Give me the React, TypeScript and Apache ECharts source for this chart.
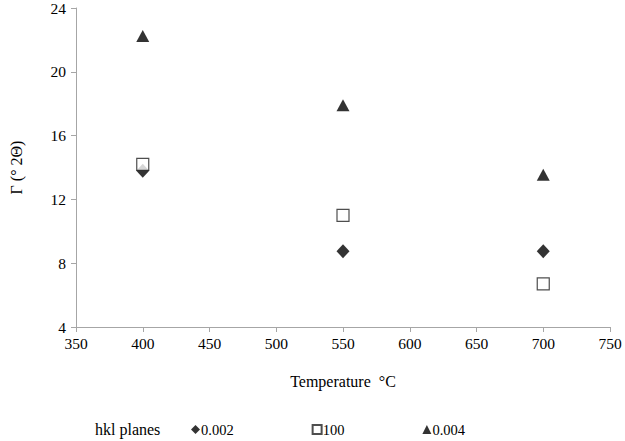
import React, { useEffect, useRef } from "react";
import * as echarts from "echarts";

const temperatures = [400, 550, 700];
const plane002 = [13.8, 8.75, 8.75];
const plane100 = [14.2, 11.0, 6.7];
const plane004 = [22.25, 17.9, 13.55];
const seriesNames = ["0.002", "100", "0.004"];

const FONT = "'Liberation Serif', serif";

export default function App() {
  const ref = useRef<HTMLDivElement>(null);
  useEffect(() => {
    if (!ref.current) return;
    const chart = echarts.init(ref.current, null, { renderer: "svg" });
    const mk = (vals: number[]) => temperatures.map((t, i) => [t, vals[i]]);
    chart.setOption({
      animation: false,
      backgroundColor: "#ffffff",
      textStyle: { fontFamily: FONT },
      grid: { left: 74, right: 15, top: 8, bottom: 114, containLabel: false },
      xAxis: {
        type: "value",
        min: 350,
        max: 750,
        interval: 50,
        name: "Temperature\u00a0 °C",
        nameLocation: "middle",
        nameGap: 46,
        nameTextStyle: { color: "#000", fontSize: 16, fontFamily: FONT },
        axisLine: { show: true, lineStyle: { color: "#a6a6a6", width: 1 } },
        axisTick: { show: true, inside: false, length: 5, lineStyle: { color: "#a6a6a6" } },
        axisLabel: { color: "#000", fontSize: 15.5, fontFamily: FONT, margin: 8 },
        splitLine: { show: false },
      },
      yAxis: {
        type: "value",
        min: 4,
        max: 24,
        interval: 4,
        name: "Γ (° 2Θ)",
        nameLocation: "middle",
        nameRotate: 90,
        nameGap: 52,
        nameTextStyle: { color: "#000", fontSize: 16, fontFamily: FONT },
        axisLine: { show: true, lineStyle: { color: "#a6a6a6", width: 1 } },
        axisTick: { show: true, inside: false, length: 5, lineStyle: { color: "#a6a6a6" } },
        axisLabel: { color: "#000", fontSize: 15.5, fontFamily: FONT, margin: 10 },
        splitLine: { show: false },
      },
      legend: {
        left: 191,
        top: 422,
        padding: 0,
        itemGap: 78,
        itemWidth: 9,
        itemHeight: 9,
        textStyle: { color: "#000", fontSize: 14.5, fontFamily: FONT, padding: [0, 0, 0, -4] },
        data: seriesNames,
      },
      graphic: [
        {
          type: "text",
          left: 95,
          top: 421,
          style: { text: "hkl planes", fill: "#000", fontSize: 16, fontFamily: FONT },
        },
      ],
      series: [
        {
          name: seriesNames[0],
          type: "scatter",
          symbol: "diamond",
          symbolSize: [13, 14],
          itemStyle: { color: "#000" },
          data: mk(plane002),
        },
        {
          name: seriesNames[1],
          type: "scatter",
          symbol: "rect",
          symbolSize: 12,
          itemStyle: { color: "#fff", borderColor: "#222", borderWidth: 1.2 },
          data: mk(plane100),
        },
        {
          name: seriesNames[2],
          type: "scatter",
          symbol: "triangle",
          symbolSize: [13, 12],
          itemStyle: { color: "#000" },
          data: mk(plane004),
        },
      ],
    });
    return () => chart.dispose();
  }, []);
  return <div ref={ref} style={{ width: 625, height: 441, position: "absolute", left: 0, top: 0 }} />;
}
